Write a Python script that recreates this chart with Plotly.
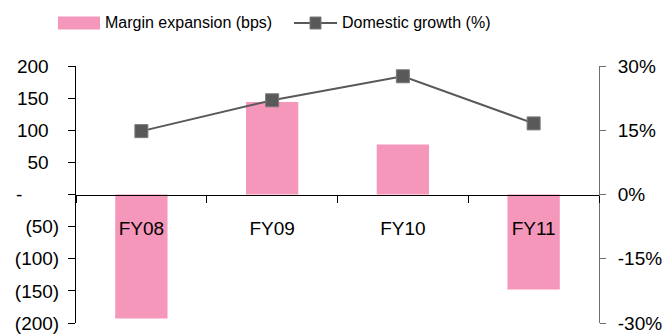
import plotly.graph_objects as go

# Fiscal years and the two series
years = ["FY08", "FY09", "FY10", "FY11"]
margin_bps = [-193, 144, 78, -148]
domestic_growth = [14.8, 22.0, 27.6, 16.6]

# Left axis (bps) ticks in accounting style
bps_ticks = [200, 150, 100, 50, 0, -50, -100, -150, -200]
bps_labels = ["200\u00a0\u00a0", "150\u00a0\u00a0", "100\u00a0\u00a0", "50\u00a0\u00a0",
              "-" + "\u00a0" * 7, "(50)", "(100)", "(150)", "(200)"]

# Right axis (%) ticks
pct_ticks = [30, 15, 0, -15, -30]
pct_labels = ["30%", "15%", "0%", "-15%", "-30%"]

BAR_COLOR = "#F596BB"
LINE_COLOR = "#595959"
FONT = "Liberation Sans, Arial, sans-serif"

fig = go.Figure()

fig.add_trace(go.Bar(
    x=years, y=margin_bps, name="Margin expansion (bps)",
    marker=dict(color=BAR_COLOR, line=dict(width=0)),
    width=0.4, yaxis="y", showlegend=False,
))

fig.add_trace(go.Scatter(
    x=years, y=domestic_growth, name="Domestic growth (%)",
    mode="lines+markers",
    line=dict(color=LINE_COLOR, width=2),
    marker=dict(symbol="square", size=13, color=LINE_COLOR,
                line=dict(color="#7a7a7a", width=1)),
    yaxis="y2", showlegend=False,
))

fig.update_layout(
    width=666, height=335,
    margin=dict(l=76, r=67, t=66, b=12),
    paper_bgcolor="white", plot_bgcolor="white",
    font=dict(family=FONT, size=19, color="black"),
    showlegend=False,
    xaxis=dict(
        type="category",
        anchor="free", position=0.5,
        showline=True, linecolor="black", linewidth=1,
        ticks="outside", ticklen=7, tickcolor="black",
        tickson="boundaries",
        ticklabelstandoff=17,
        showgrid=False, zeroline=False, automargin=False,
        tickfont=dict(family=FONT, size=19, color="black"),
    ),
    yaxis=dict(
        range=[-200, 200],
        tickvals=bps_ticks, ticktext=bps_labels,
        showline=True, linecolor="black", linewidth=1,
        ticks="outside", ticklen=7, tickcolor="black",
        ticklabelstandoff=5,
        showgrid=False, zeroline=False, automargin=False,
        tickfont=dict(family=FONT, size=19, color="black"),
    ),
    yaxis2=dict(
        range=[-30, 30], overlaying="y", side="right", anchor="x",
        tickvals=pct_ticks, ticktext=pct_labels,
        showline=True, linecolor="#6e6e6e", linewidth=1,
        ticks="outside", ticklen=6, tickcolor="#6e6e6e",
        ticklabelstandoff=8,
        showgrid=False, zeroline=False, automargin=False,
        tickfont=dict(family=FONT, size=19, color="black"),
    ),
    # inner half of the crossing tick marks on the right axis
    yaxis3=dict(
        range=[-30, 30], overlaying="y", side="right", anchor="x",
        tickvals=pct_ticks, showticklabels=False,
        ticks="inside", ticklen=6, tickcolor="#6e6e6e",
        showline=False, showgrid=False, zeroline=False, automargin=False,
    ),
)

# Legend drawn in paper coordinates above the plot
def px_x(px):
    return (px - 76) / 523.0

def px_y(py):
    return (323 - py) / 257.0

shapes = [
    dict(type="rect", xref="paper", yref="paper",
         x0=px_x(58), x1=px_x(100), y0=px_y(29.5), y1=px_y(16.5),
         fillcolor=BAR_COLOR, line=dict(width=0)),
    dict(type="line", xref="paper", yref="paper",
         x0=px_x(294), x1=px_x(337), y0=px_y(23), y1=px_y(23),
         line=dict(color=LINE_COLOR, width=2)),
    dict(type="rect", xref="paper", yref="paper",
         x0=px_x(310), x1=px_x(321), y0=px_y(29), y1=px_y(17),
         fillcolor=LINE_COLOR, line=dict(color="#7a7a7a", width=1)),
]
annotations = [
    dict(text="Margin expansion (bps)", xref="paper", yref="paper",
         x=px_x(103), y=px_y(23), xanchor="left", yanchor="middle",
         showarrow=False, font=dict(family=FONT, size=16, color="black")),
    dict(text="Domestic growth (%)", xref="paper", yref="paper",
         x=px_x(340), y=px_y(23), xanchor="left", yanchor="middle",
         showarrow=False, font=dict(family=FONT, size=16, color="black")),
]
fig.update_layout(shapes=shapes, annotations=annotations)

fig.write_html("out.html")
